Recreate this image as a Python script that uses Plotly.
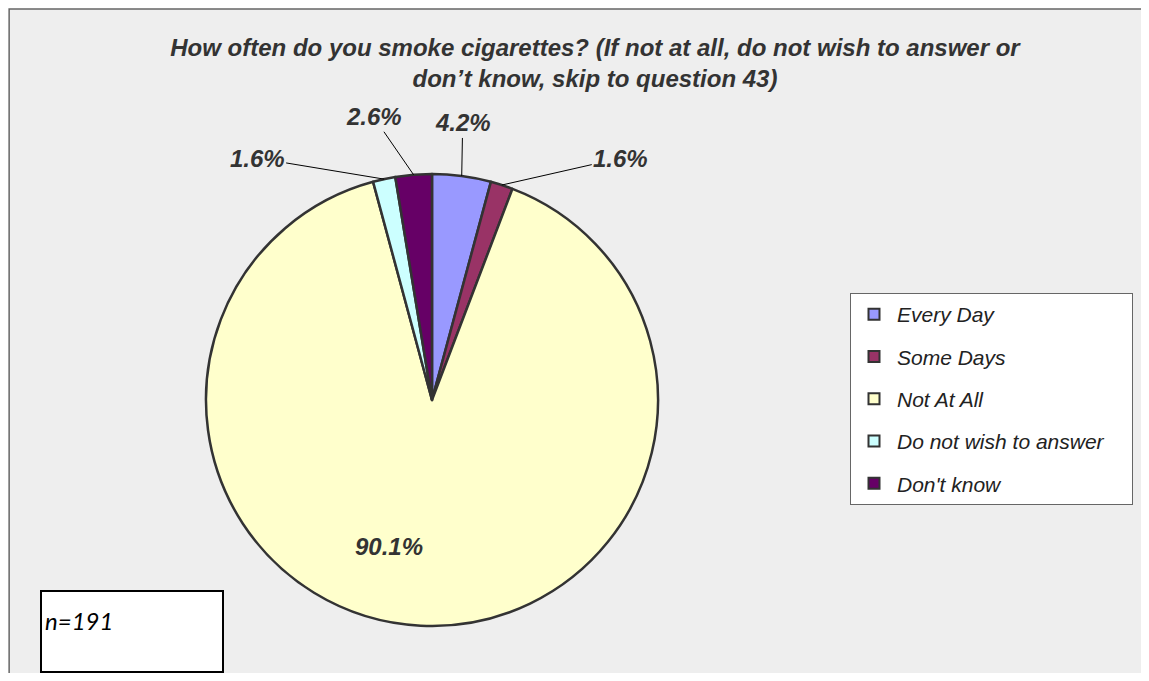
import math
import plotly.graph_objects as go

# survey answers (percent of respondents)
categories = ["Every Day", "Some Days", "Not At All", "Do not wish to answer", "Don't know"]
percents = [4.2, 1.6, 90.1, 1.6, 2.6]
colors = ["#9999FF", "#993366", "#FFFFCC", "#CCFFFF", "#660066"]
sample_size = 191

title_text = ("How often do you smoke cigarettes? (If not at all, do not wish to answer or<br>"
              "don’t know, skip to question 43)")

# the page body has an 8px margin, keep the figure inside the window
W, H = 1133, 665
# pie geometry in figure pixels
CX, CY, R = 424, 392, 226
# where the labels sit: small slices relative to the slice edge, big one relative to the centre (px)
label_shift = {0: (1, -53), 1: (119, -27), 3: (-127, -21), 4: (-40, -58)}
big_label_shift = (-43, 162)

text_color = "#333333"
font_main = "Liberation Sans"
outline = "#333333"
label_font = dict(family=font_main, size=24, color=text_color, style="italic", weight="bold")
legend_pad = "\u00a0" * 4  # widens the legend box a little


def px_x(v):
    return v / W


def px_y(v):
    return 1 - v / H


fig = go.Figure(go.Pie(
    labels=categories,
    values=percents,
    sort=False,
    direction="clockwise",
    rotation=0,
    marker=dict(colors=colors, line=dict(color=outline, width=2.5)),
    textinfo="none",
    domain=dict(x=[px_x(CX - R), px_x(CX + R)], y=[px_y(CY + R), px_y(CY - R)]),
    hoverinfo="label+value",
    showlegend=False,
))

# legend entries (pie legend can't be spaced out, so one entry per category)
for name, col in zip(categories, colors):
    fig.add_trace(go.Scatter(
        x=[None], y=[None], mode="markers", name=name + legend_pad, legendgroup=name,
        marker=dict(symbol="square", size=11, color=col, line=dict(color=outline, width=2)),
        hoverinfo="skip",
    ))

# value labels, leader lines for the small slices
total = sum(percents)
cum = 0.0
annotations = []
for i, p in enumerate(percents):
    mid = (cum + p / 2) / total
    cum += p
    if i in label_shift:
        ang = 2 * math.pi * mid
        ex = CX + R * math.sin(ang)
        ey = CY - R * math.cos(ang)
        dx, dy = label_shift[i]
        annotations.append(dict(
            x=px_x(ex), y=px_y(ey), xref="paper", yref="paper",
            ax=dx, ay=dy, text=f"{p:.1f}%", showarrow=True,
            arrowhead=0, arrowwidth=1, arrowcolor="#000000", standoff=0,
            font=label_font,
        ))
    else:
        annotations.append(dict(
            x=px_x(CX + big_label_shift[0]), y=px_y(CY + big_label_shift[1]),
            xref="paper", yref="paper", showarrow=False,
            text=f"{p:.1f}%", font=label_font,
        ))

annotations.append(dict(
    x=px_x(35), y=px_y(612), xref="paper", yref="paper",
    xanchor="left", yanchor="middle", showarrow=False,
    text=f"n={sample_size}",
    font=dict(family="Lato", size=24, color="#000000", style="italic"),
))

fig.update_layout(
    width=W, height=H,
    margin=dict(l=0, r=0, t=0, b=0),
    paper_bgcolor="white",
    plot_bgcolor="rgba(0,0,0,0)",
    xaxis=dict(visible=False),
    yaxis=dict(visible=False),
    title=dict(text=title_text, x=px_x(587), xanchor="center", y=px_y(48), yanchor="top",
               font=dict(family=font_main, size=24, color=text_color, style="italic", weight="bold")),
    showlegend=True,
    legend=dict(
        x=px_x(842), y=px_y(285), xanchor="left", yanchor="top",
        bgcolor="white", bordercolor="#666666", borderwidth=1,
        tracegroupgap=12, itemwidth=36,
        font=dict(family=font_main, size=21, color="#222222", style="italic"),
    ),
    annotations=annotations,
    shapes=[
        # grey chart area
        dict(type="rect", xref="paper", yref="paper", x0=0.001, x1=1.02, y0=-0.05, y1=px_y(1),
             fillcolor="#EEEEEE", line=dict(color="#666666", width=1.5), layer="below"),
        # sample size box
        dict(type="rect", xref="paper", yref="paper", x0=px_x(33), x1=px_x(215), y0=px_y(664), y1=px_y(583),
             fillcolor="white", line=dict(color="#000000", width=2), layer="below"),
    ],
)

fig.write_html("out.html")
